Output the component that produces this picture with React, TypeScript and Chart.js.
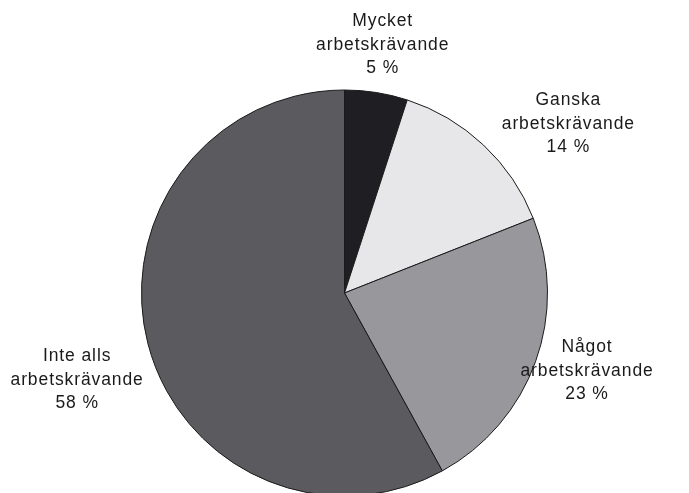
import React, { useEffect, useRef } from "react";
import { Chart, registerables } from "chart.js";

Chart.register(...registerables);

const categories: string[][] = [
  ["Mycket", "arbetskrävande"],
  ["Ganska", "arbetskrävande"],
  ["Något", "arbetskrävande"],
  ["Inte alls", "arbetskrävande"],
];
const values: number[] = [5, 14, 23, 58];
const valueLabels: string[] = ["5 %", "14 %", "23 %", "58 %"];
const sliceColors: string[] = ["#1f1f23", "#e7e7e9", "#98979c", "#5b5a5f"];
// label nudges (px) relative to the generic outside placement
const labelNudgeX: number[] = [-6, 32, -21, 3];
const labelNudgeY: number[] = [-3, 12, -6, 25];

const FONT = "17.5px 'Liberation Sans', Arial, sans-serif";
const LINE_H = 23.5;

const labelPlugin = {
  id: "outerLabels",
  afterDraw(chart: any) {
    const ctx = chart.ctx as CanvasRenderingContext2D;
    const meta = chart.getDatasetMeta(0);
    ctx.save();
    ctx.font = FONT;
    (ctx as any).letterSpacing = "0.9px";
    ctx.fillStyle = "#1a1a1a";
    ctx.textAlign = "center";
    ctx.textBaseline = "middle";
    meta.data.forEach((arc: any, i: number) => {
      const p = arc.getProps(["x", "y", "startAngle", "endAngle", "outerRadius"], true);
      const mid = (p.startAngle + p.endAngle) / 2;
      const lines = [...categories[i], valueLabels[i]];
      const w = Math.max(...lines.map((l) => ctx.measureText(l).width));
      const h = lines.length * LINE_H;
      const gap = 10;
      const ax = p.x + Math.cos(mid) * (p.outerRadius + gap);
      const ay = p.y + Math.sin(mid) * (p.outerRadius + gap);
      const cx = ax + Math.cos(mid) * (w / 2) + labelNudgeX[i];
      const cy = ay + Math.sin(mid) * (h / 2) + labelNudgeY[i];
      lines.forEach((l, j) => {
        ctx.fillText(l, cx + 0.45, cy + (j - (lines.length - 1) / 2) * LINE_H);
      });
    });
    ctx.restore();
  },
};

export default function App() {
  const ref = useRef<HTMLCanvasElement | null>(null);
  useEffect(() => {
    document.body.style.margin = "0";
    document.body.style.overflow = "hidden";
    const chart = new Chart(ref.current!, {
      type: "pie",
      data: {
        labels: categories.map((c) => c.join(" ")),
        datasets: [
          {
            data: values,
            backgroundColor: sliceColors,
            borderColor: "#1a1a1a",
            borderWidth: 1,
          },
        ],
      },
      options: {
        animation: false,
        responsive: false,
        events: [],
        layout: { padding: { top: 89.5, bottom: 23.5, left: 0, right: 0 } },
        plugins: { legend: { display: false }, tooltip: { enabled: false } },
      },
      plugins: [labelPlugin],
    });
    return () => chart.destroy();
  }, []);
  return (
    <div style={{ position: "absolute", left: 0, top: 0, width: 689, height: 493, overflow: "hidden", background: "#fff" }}>
      <canvas ref={ref} width={689} height={520} style={{ display: "block", width: 689, height: 520 }} />
    </div>
  );
}
